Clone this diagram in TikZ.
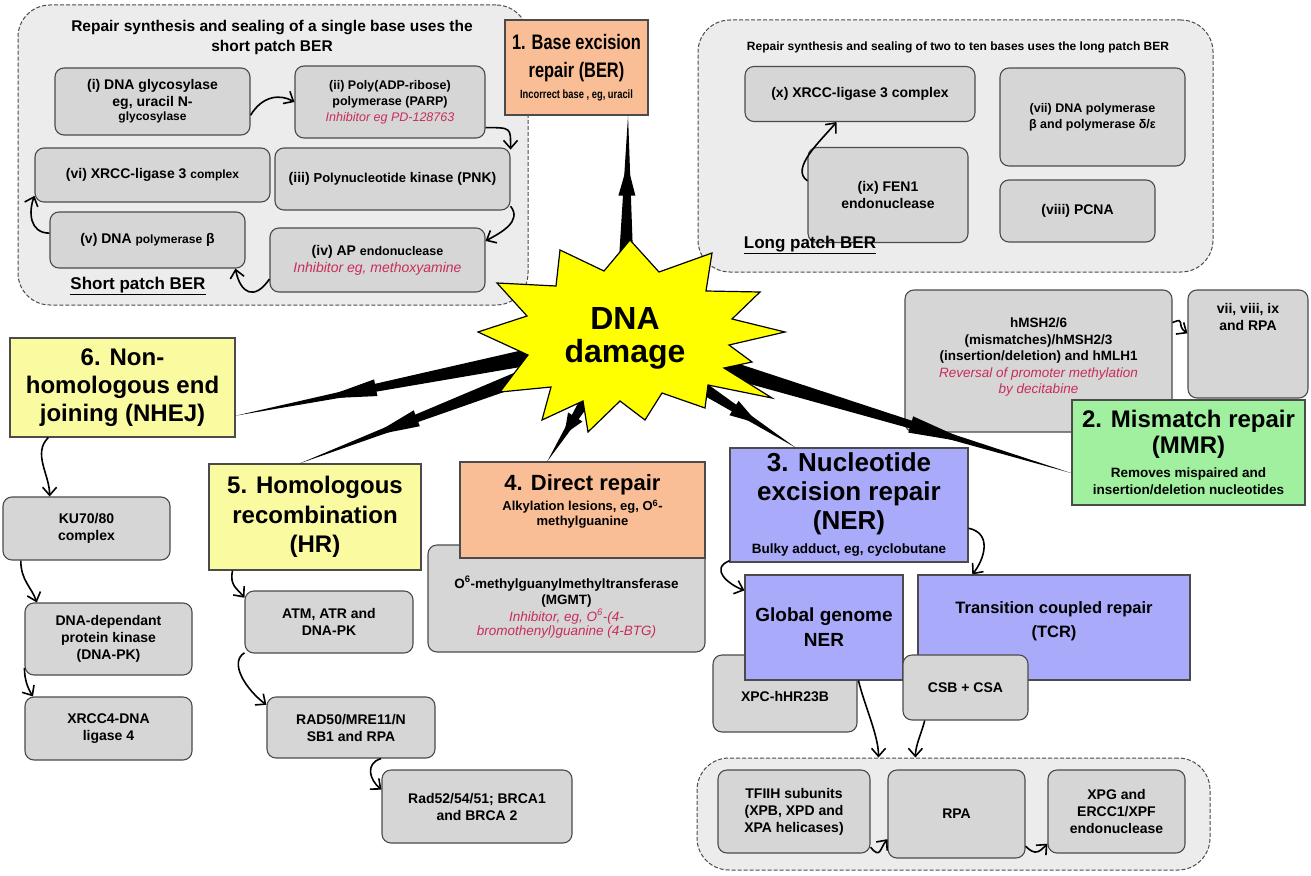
\documentclass[tikz,border=0pt]{standalone}
\usepackage{fontspec}
\setmainfont{Liberation Sans}
\newfontfamily\narrowsf{Liberation Sans}[FakeStretch=0.78]
\usetikzlibrary{arrows.meta, positioning, calc}
\definecolor{boxgray}{RGB}{214, 214, 214}
\definecolor{reggray}{RGB}{236, 236, 236}
\definecolor{edgegray}{RGB}{75, 75, 75}
\definecolor{berorange}{RGB}{250, 190, 150}
\definecolor{dsbyellow}{RGB}{250, 250, 160}
\definecolor{nerblue}{RGB}{170, 170, 250}
\definecolor{mmrgreen}{RGB}{160, 240, 160}
\definecolor{inhred}{RGB}{200, 45, 90}
\definecolor{dmgyellow}{RGB}{255, 255, 0}
\newcommand{\fsz}[2]{\fontsize{#1}{#2}\selectfont}
\newcommand{\inh}[1]{\textcolor{inhred}{\mdseries\itshape #1}}
% tapered pointer from the damage star
\newcommand{\dmgarrow}[2]{%
  \coordinate (ta) at (#1);
  \coordinate (tb) at (#2);
  \coordinate (hb) at ($(tb)!0.36!(ta)$);
  \coordinate (ht) at ($(tb)!0.22!(ta)$);
  \fill ($(ta)!11pt!90:(tb)$) -- (tb) -- ($(ta)!11pt!-90:(tb)$) -- cycle;
  \fill ($(hb)!8.5pt!90:(tb)$) -- (ht) -- ($(hb)!8.5pt!-90:(tb)$) -- cycle;
}

\begin{document}
\begin{tikzpicture}[x=1pt, y=-1pt,
  region/.style={draw=edgegray, fill=reggray, dash pattern=on 4pt off 2pt,
    line width=1pt, rounded corners=32pt},
  graybox/.style={draw=edgegray, fill=boxgray, line width=1.1pt, rounded corners=9pt,
    align=center, inner sep=2pt, font=\fsz{14}{17}\bfseries},
  boxtext/.style={align=center, inner sep=0pt, font=\fsz{14}{17}\bfseries},
  titlebox/.style={draw=edgegray, line width=1.1pt, align=center, inner sep=2pt},
  flow/.style={line width=1.6pt, -{Straight Barb[length=8pt,width=14pt]}}]

  \fill[white] (0,0) rectangle (1311,875);
  \useasboundingbox (0,0) rectangle (1311,875);

  % --- short patch BER ---
  \node[region, minimum width=510, minimum height=300] (shortreg) at (273,155) {};
  \node[boxtext, font=\fsz{15.5}{20}\bfseries] (shorthead) at (272,37)
    {Repair synthesis and sealing of a single base uses the\\short patch BER};
  \node[graybox, minimum width=195, minimum height=67] (glyco) at (152.5,101.5)
    {(i) DNA glycosylase\\eg, uracil N-\\[-3pt]{\fsz{12}{14}glycosylase}};
  \node[graybox, minimum width=190, minimum height=72, font=\fsz{12.5}{16}\bfseries] (parp) at (390,102)
    {(ii) Poly(ADP-ribose)\\polymerase (PARP)\\\inh{Inhibitor eg PD-128763}};
  \node[graybox, minimum width=235, minimum height=54] (xrccs) at (152.5,175)
    {(vi) XRCC-ligase 3 {\fsz{12}{14}complex}};
  \node[graybox, minimum width=235, minimum height=62] (pnk) at (392.5,179)
    {(iii) {\fsz{13}{16}Polynucleotide} kinase (PNK)};
  \node[graybox, minimum width=195, minimum height=56] (polb) at (147.5,240)
    {(v) DNA {\fsz{12}{14}polymerase} β};
  \node[graybox, minimum width=215, minimum height=64] (apendo) at (377.5,260)
    {(iv) AP {\fsz{12.5}{14}endonuclease}\\\inh{Inhibitor eg, methoxyamine}};
  \node[boxtext, font=\fsz{17}{20}\bfseries] (shortlab) at (138,286) {\underline{Short patch BER}};

  \draw[flow] (glyco.-8) .. controls +(12,-20) and +(-14,-8) .. (parp.west);
  \draw[flow] (parp.-15) .. controls +(26,0) and +(0,-22) .. (pnk.14);
  \draw[flow] (pnk.-13) .. controls +(12,15) and +(15,-8) .. (apendo.10);
  \draw[flow] (apendo.-170) .. controls +(-15,22) and +(5,25) .. (polb.-18);
  \draw[flow] (polb.176) .. controls +(-20,0) and +(-6,16) .. (xrccs.-170);

  % --- long patch BER ---
  \node[region, minimum width=515, minimum height=252] (longreg) at (955.5,146) {};
  \node[boxtext, font=\fsz{12}{14}\bfseries] (longhead) at (958,47)
    {Repair synthesis and sealing of two to ten bases uses the long patch BER};
  \node[graybox, minimum width=230, minimum height=55] (xrccl) at (860,94)
    {(x) XRCC-ligase 3 complex};
  \node[graybox, minimum width=160, minimum height=95] (fen1) at (888,195)
    {(ix) FEN1\\endonuclease};
  \node[graybox, minimum width=185, minimum height=98, font=\fsz{12.5}{16}\bfseries] (polde) at (1092.5,117)
    {(vii) DNA polymerase\\β and polymerase δ/ε};
  \node[graybox, minimum width=155, minimum height=62] (pcna) at (1077.5,211)
    {(viii) PCNA};
  \node[boxtext, font=\fsz{17}{20}\bfseries] (longlab) at (810,245) {\underline{Long patch BER}};

  \draw[flow] (fen1.170) .. controls +(-18,-12) and +(-15,18) .. (xrccl.-130);

  % --- mismatch repair ---
  \node[graybox, minimum width=267, minimum height=142, font=\fsz{13.5}{16.5}\bfseries] (msh) at (1038.5,361)
    {hMSH2/6\\(mismatches)/hMSH2/3\\(insertion/deletion) and hMLH1\\\inh{Reversal of promoter methylation}\\\inh{by decitabine}\\[-6pt]};
  \node[graybox, minimum width=120, minimum height=108] (repl) at (1248,344) {};
  \node[boxtext, below=14pt of repl.north] (repltxt) {vii, viii, ix\\and RPA};
  \draw[flow] (msh.16) .. controls +(14,-6) and +(-12,-8) .. (repl.170);
  \node[titlebox, fill=mmrgreen, minimum width=233, minimum height=105, font=\fsz{24}{26}\bfseries] (mmr) at (1188.5,452.5)
    {2. Mismatch repair\\(MMR)\\[-2pt]
     {\fsz{13.5}{16}Removes mispaired and}\\[-9pt]{\fsz{13.5}{16}insertion/deletion nucleotides}};

  % --- base excision repair title ---
  \node[titlebox, fill=berorange, minimum width=143, minimum height=95, font=\narrowsf\fsz{21}{28}\bfseries] (ber) at (576.5,67.5)
    {1. Base excision\\repair (BER)\\[-7pt]{\fsz{12}{14}Incorrect base , eg, uracil}};

  % --- non-homologous end joining ---
  \node[titlebox, fill=dsbyellow, minimum width=225, minimum height=99, font=\fsz{24}{28}\bfseries] (nhej) at (122.5,387.5)
    {6. Non-\\homologous end\\joining (NHEJ)};
  \node[graybox, minimum width=167, minimum height=63] (ku) at (86.5,528.5) {KU70/80\\complex};
  \node[graybox, minimum width=167, minimum height=72] (dnapk) at (108.5,639)
    {DNA-dependant\\protein kinase\\(DNA-PK)};
  \node[graybox, minimum width=167, minimum height=63] (xrcc4) at (108.5,728.5) {XRCC4-DNA\\ligase 4};
  \draw[flow] (nhej.-146) .. controls +(-16,16) and +(0,-22) .. (ku.139);
  \draw[flow] (ku.-154) .. controls +(0,20) and +(-5,-15) .. (dnapk.153);
  \draw[flow] (dnapk.-161) .. controls +(0,12) and +(-5,-8) .. (xrcc4.157);

  % --- homologous recombination ---
  \node[titlebox, fill=dsbyellow, minimum width=212, minimum height=106, font=\fsz{24}{29.5}\bfseries] (hr) at (315,517)
    {5. Homologous\\recombination\\(HR)};
  \node[graybox, minimum width=168, minimum height=62] (atm) at (329,622) {ATM, ATR and\\DNA-PK};
  \node[graybox, minimum width=168, minimum height=61] (rad50) at (351,727.5) {RAD50/MRE11/N\\SB1 and RPA};
  \node[graybox, minimum width=190, minimum height=73] (rad52) at (477,806.5) {Rad52/54/51; BRCA1\\and BRCA 2};
  \draw[flow] (hr.-147) .. controls +(-3,15) and +(-8,-10) .. (atm.164);
  \draw[flow] (atm.-160) .. controls +(-16,10) and +(-20,-15) .. (rad50.165);
  \draw[flow] (rad50.-46) .. controls +(-16,5) and +(-12,-10) .. (rad52.170);

  % --- direct repair ---
  \node[graybox, minimum width=277, minimum height=107, font=\fsz{13.5}{16.5}\bfseries] (mgmt) at (566.5,598.5)
    {\strut\\O\textsuperscript{6}-methylguanylmethyltransferase\\(MGMT)\\
     \inh{Inhibitor, eg, O\textsuperscript{6}-(4-}\\[-2pt]\inh{bromothenyl)guanine (4-BTG)}};
  \node[titlebox, fill=berorange, minimum width=245, minimum height=96, font=\fsz{22}{26}\bfseries] (direct) at (582.5,510)
    {4. Direct repair\\[-6pt]
     {\fsz{13}{15}Alkylation lesions, eg, O\textsuperscript{6}-}\\[-11pt]{\fsz{13}{15}methylguanine}\\[-6pt]};

  % --- nucleotide excision repair ---
  \node[titlebox, fill=nerblue, minimum width=238, minimum height=114, font=\fsz{26}{29}\bfseries] (ner) at (849,505)
    {3. Nucleotide\\excision repair\\(NER)\\[-5pt]
     {\fsz{13.5}{16}Bulky adduct, eg, cyclobutane}};
  \node[graybox, minimum width=144, minimum height=77] (xpc) at (785,693.5) {\\XPC-hHR23B};
  \node[titlebox, fill=nerblue, minimum width=158, minimum height=105, font=\fsz{19}{25}\bfseries] (global) at (824,627.5)
    {Global genome\\NER};
  \node[titlebox, fill=nerblue, minimum width=272, minimum height=105, font=\fsz{16.5}{24}\bfseries] (tcr) at (1054,627.5)
    {Transition coupled repair\\(TCR)\\[-8pt]};
  \node[graybox, minimum width=125, minimum height=65] (csb) at (965.5,687.5) {CSB + CSA};
  \draw[flow] (ner.-155) .. controls +(-20,8) and +(-16,-6) .. (global.155);
  \draw[flow] (ner.-11) .. controls +(24,5) and +(12,-15) .. (tcr.147);

  \node[region, minimum width=513, minimum height=112] (lowreg) at (953.5,814) {};
  \node[graybox, minimum width=152, minimum height=83] (tfiih) at (794,811.5)
    {TFIIH subunits\\(XPB, XPD and\\XPA helicases)};
  \node[graybox, minimum width=137, minimum height=88] (rpa) at (956.5,814) {RPA};
  \node[graybox, minimum width=137, minimum height=83] (xpg) at (1116.5,811.5)
    {XPG and\\ERCC1/XPF\\endonuclease};
  \draw[flow] (global.-57) .. controls +(6,25) and +(0,-22) .. (lowreg.143);
  \draw[flow] (csb.-141) .. controls +(-3,12) and +(0,-12) .. (lowreg.124);
  \draw[flow] (tfiih.-25) .. controls +(10,12) and +(-8,10) .. (rpa.-160);
  \draw[flow] (rpa.-25) .. controls +(10,10) and +(-8,8) .. (xpg.-155);

  % --- DNA damage star and its pointers ---
  \coordinate (dmgc) at (625,338);
  \dmgarrow{dmgc}{ber.-43}
  \dmgarrow{dmgc}{nhej.-14}
  \dmgarrow{dmgc}{hr.106}
  \dmgarrow{dmgc}{direct.126}
  \dmgarrow{dmgc}{ner.133}
  \dmgarrow{dmgc}{mmr.-170}
  \filldraw[fill=dmgyellow, draw=black, line width=1.2pt]
    (497,283) -- (556,286) -- (560,250) -- (604,271) -- (630,240) -- (659,272)
    -- (712,253) -- (706,291) -- (760,292) -- (732,319) -- (785,332) -- (729,345)
    -- (752,362) -- (724,368) -- (772,398) -- (708,385) -- (705,408) -- (662,393)
    -- (645,420) -- (620,401) -- (588,432) -- (583,401) -- (542,420) -- (551,387)
    -- (500,392) -- (528,355) -- (478,332) -- (527,316) -- cycle;
  \node[align=center, font=\fsz{32}{33}\bfseries] (dmg) at (dmgc) {DNA\\damage};

\end{tikzpicture}
\end{document}
